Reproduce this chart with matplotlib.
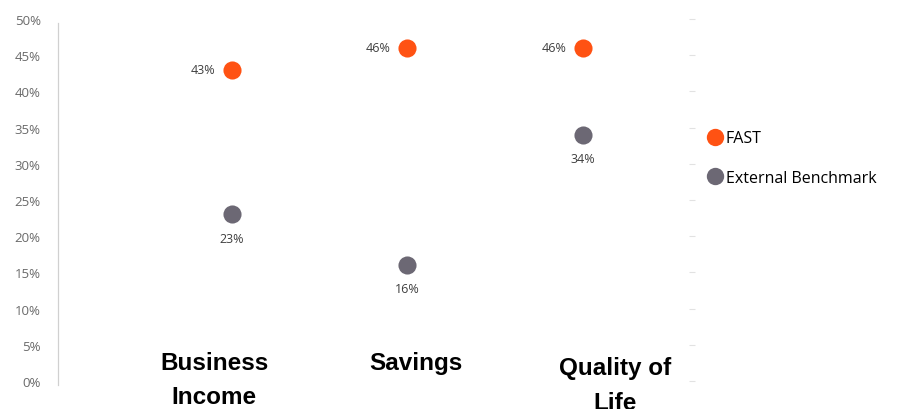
import matplotlib
matplotlib.use("Agg")
import matplotlib.pyplot as plt
from matplotlib.lines import Line2D
from matplotlib.ticker import MultipleLocator, FuncFormatter

categories = ["Business\nIncome", "Savings", "Quality of\nLife"]
fast = [43, 46, 46]
benchmark = [23, 16, 34]
series_names = ["FAST", "External Benchmark"]

ORANGE = "#FF5213"
GREY = "#6C6874"

fig = plt.figure(figsize=(9.04, 4.10), dpi=100)
ax = fig.add_axes([58 / 904, 28 / 410, (692 - 58) / 904, 362 / 410])

x = list(range(1, len(categories) + 1))
ax.scatter(x, fast, s=170, color=ORANGE, zorder=3, linewidths=0)
ax.scatter(x, benchmark, s=170, color=GREY, zorder=3, linewidths=0)

for xi, v in zip(x, fast):
    ax.annotate(f"{v}%", (xi, v), xytext=(-12, 0), textcoords="offset points",
                ha="right", va="center", fontsize=9, color="#3F3F3F",
                family="Open Sans")
for xi, v in zip(x, benchmark):
    ax.annotate(f"{v}%", (xi, v), xytext=(0, -17), textcoords="offset points",
                ha="center", va="center", fontsize=9, color="#3F3F3F",
                family="Open Sans")

# category names sit inside the plot area, near the baseline
label_dx = [-0.1, 0.05, 0.18]
label_top = [4.2, 4.2, 3.4]
for xi, name, dx, top in zip(x, categories, label_dx, label_top):
    ax.text(xi + dx, top, name, ha="center", va="top",
            fontsize=17.5, fontweight="bold", family="Liberation Sans",
            color="black", linespacing=1.62, clip_on=False)

ax.set_xlim(0.01, 3.62)
ax.set_ylim(0, 50)
ax.yaxis.set_major_locator(MultipleLocator(5))
ax.yaxis.set_major_formatter(FuncFormatter(lambda v, _: f"{v:.0f}%"))
ax.set_xticks([])

for side in ["top", "bottom", "right"]:
    ax.spines[side].set_visible(False)
ax.spines["left"].set_color("#D0D0D0")
ax.spines["left"].set_linewidth(0.9)
ax.spines["left"].set_bounds(-0.5, 49.5)

ax.tick_params(axis="y", left=False, right=True, length=5, direction="inout",
               color="#E2E2E2", labelsize=9.5, labelcolor="#6A6A6A", pad=10)
for lab in ax.get_yticklabels():
    lab.set_family("Open Sans")

handles = [
    Line2D([], [], marker="o", linestyle="none", markersize=12.5,
           markerfacecolor=ORANGE, markeredgewidth=0),
    Line2D([], [], marker="o", linestyle="none", markersize=12.5,
           markerfacecolor=GREY, markeredgewidth=0),
]
fig.legend(handles, series_names, loc="upper left",
           bbox_to_anchor=(690 / 904, 1 - 117 / 410), frameon=False,
           handletextpad=0.05, labelspacing=1.45, handlelength=1.3,
           prop={"family": "Open Sans", "size": 11.5})

fig.savefig("out.png", dpi=100)
